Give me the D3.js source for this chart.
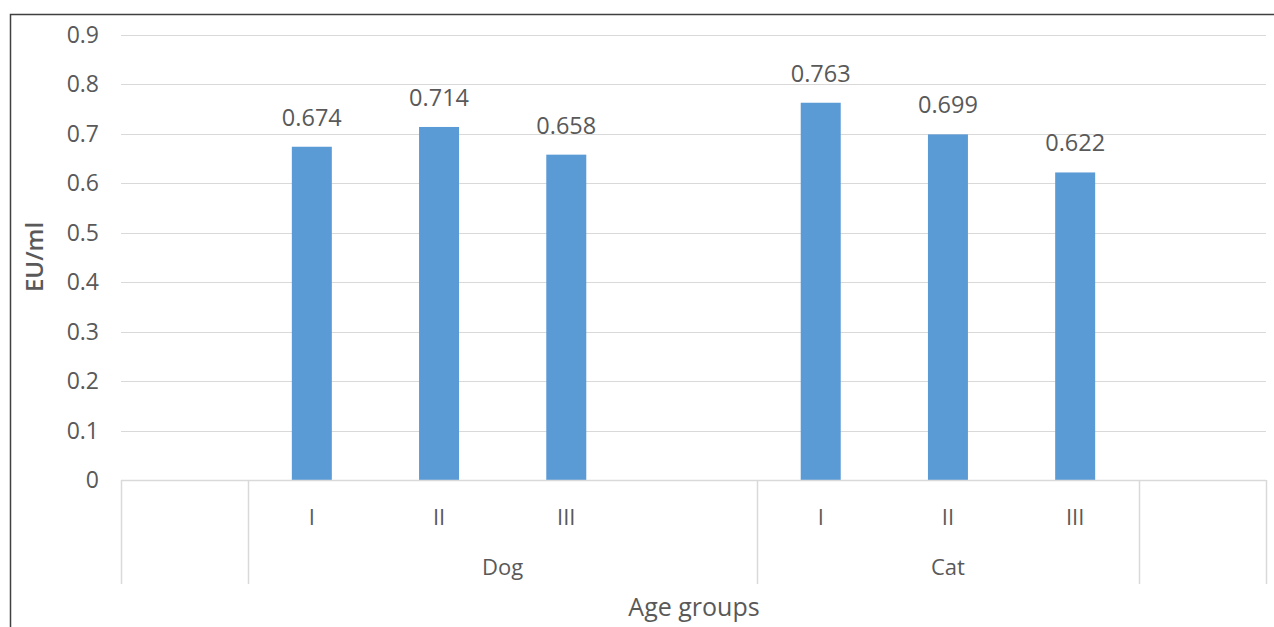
<!DOCTYPE html>
<html>
<head>
<meta charset="utf-8">
<script src="https://cdn.jsdelivr.net/npm/d3@7"></script>
<style>
  body { margin: 0; background: #fff; }
  svg { display: block; }
  text { font-family: "Open Sans", "Liberation Sans", sans-serif; fill: #595959; }
</style>
</head>
<body>
<svg id="chart" width="1274" height="627"></svg>
<script>
// Data
const slots = ["", "Dog-I", "Dog-II", "Dog-III", "Dog-", "Cat-I", "Cat-II", "Cat-III", "-"];
const groups = ["Dog", "Dog", "Dog", "Cat", "Cat", "Cat"];
const ageGroups = ["I", "II", "III", "I", "II", "III"];
const values = [0.674, 0.714, 0.658, 0.763, 0.699, 0.622];
const barSlots = ["Dog-I", "Dog-II", "Dog-III", "Cat-I", "Cat-II", "Cat-III"];
const yTicks = [0, 0.1, 0.2, 0.3, 0.4, 0.5, 0.6, 0.7, 0.8, 0.9];
const groupLabels = [{name: "Dog", from: "Dog-I", to: "Dog-"}, {name: "Cat", from: "Cat-I", to: "Cat-III"}];
const yTitle = "EU/ml";
const xTitle = "Age groups";

const svg = d3.select("#chart");
const mLeft = 121, mRight = 1266, mTop = 35, mBottom = 480;

const x = d3.scaleBand().domain(slots).range([mLeft, mRight]).paddingInner(0).paddingOuter(0);
const y = d3.scaleLinear().domain([0, 0.9]).range([mBottom, mTop]);

// Outer border
svg.append("path")
  .attr("d", `M10.5,627 L10.5,14.5 L1274,14.5`)
  .attr("fill", "none").attr("stroke", "#404040").attr("stroke-width", 1.5);

// Gridlines
svg.append("g").selectAll("line").data(yTicks.filter(d => d > 0)).join("line")
  .attr("x1", mLeft).attr("x2", mRight)
  .attr("y1", d => Math.round(y(d)) + 0.5).attr("y2", d => Math.round(y(d)) + 0.5)
  .attr("stroke", "#D9D9D9").attr("stroke-width", 1);

// Y tick labels
svg.append("g").selectAll("text").data(yTicks).join("text")
  .attr("x", 99).attr("y", d => y(d) + 8)
  .attr("text-anchor", "end").attr("font-size", 23)
  .text(d => d3.format("")(+d.toFixed(1)));

// Bars
const bw = 40;
svg.append("g").selectAll("rect").data(values).join("rect")
  .attr("x", (d, i) => x(barSlots[i]) + x.bandwidth() / 2 - bw / 2)
  .attr("width", bw)
  .attr("y", d => y(d))
  .attr("height", d => y(0) - y(d))
  .attr("fill", "#5B9BD5");

// Data labels
svg.append("g").selectAll("text").data(values).join("text")
  .attr("x", (d, i) => x(barSlots[i]) + x.bandwidth() / 2)
  .attr("y", d => y(d) - 21)
  .attr("text-anchor", "middle").attr("font-size", 23.5)
  .text(d => d3.format(".3f")(d));

// Category axis baseline
svg.append("line").attr("x1", mLeft).attr("x2", mRight)
  .attr("y1", mBottom + 0.5).attr("y2", mBottom + 0.5)
  .attr("stroke", "#D9D9D9").attr("stroke-width", 1.5);

// Group separators
const sepX = [mLeft, x("Dog-I"), x("Cat-I"), x("-"), mRight];
svg.append("g").selectAll("line").data(sepX).join("line")
  .attr("x1", d => Math.round(d) + 0.5).attr("x2", d => Math.round(d) + 0.5)
  .attr("y1", mBottom).attr("y2", 584)
  .attr("stroke", "#D9D9D9").attr("stroke-width", 1.5);

// Age group labels
svg.append("g").selectAll("text").data(ageGroups).join("text")
  .attr("x", (d, i) => x(barSlots[i]) + x.bandwidth() / 2)
  .attr("y", 525)
  .attr("text-anchor", "middle").attr("font-size", 22)
  .text(d => d);

// Species labels
svg.append("g").selectAll("text").data(groupLabels).join("text")
  .attr("x", d => (x(d.from) + x(d.to) + x.bandwidth()) / 2)
  .attr("y", 575)
  .attr("text-anchor", "middle").attr("font-size", 22)
  .text(d => d.name);

// Axis titles
svg.append("text").attr("x", 694).attr("y", 616)
  .attr("text-anchor", "middle").attr("font-size", 25).text(xTitle);

svg.append("text").attr("transform", `translate(43,257) rotate(-90)`)
  .attr("text-anchor", "middle").attr("font-size", 24).attr("font-weight", 600)
  .style("fill", "#595959").text(yTitle);
</script>
</body>
</html>
